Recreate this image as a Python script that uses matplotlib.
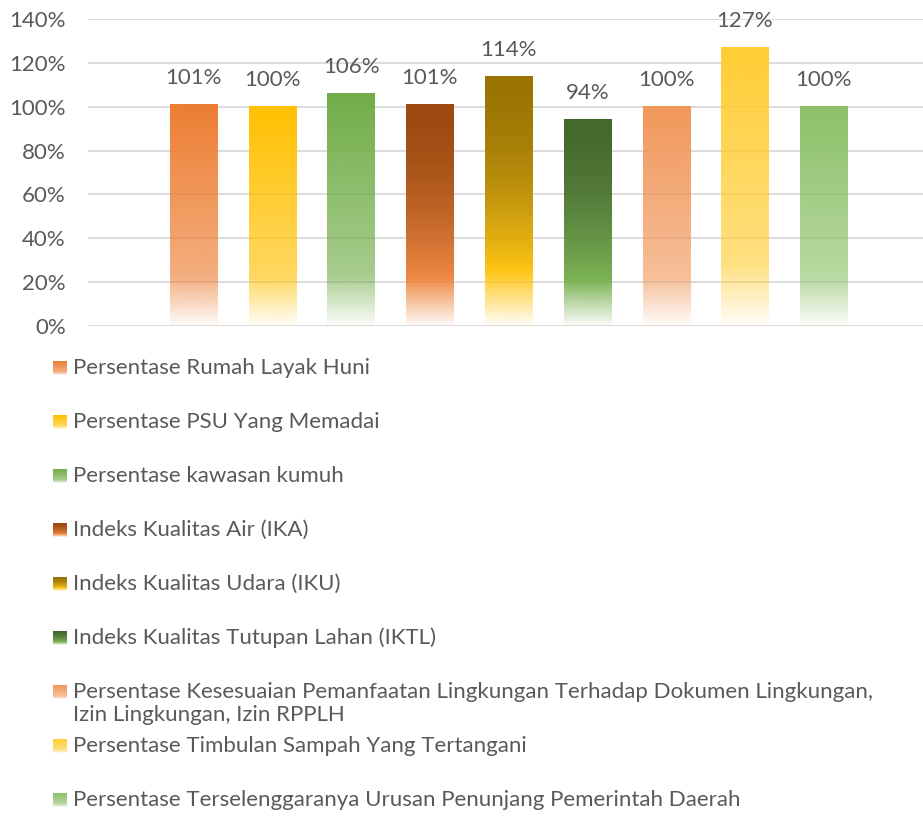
import matplotlib
matplotlib.use("Agg")
import matplotlib.pyplot as plt
import numpy as np
from matplotlib.colors import to_rgb

plt.rcParams['font.family'] = ['Lato', 'DejaVu Sans']

labels = [
    "Persentase Rumah Layak Huni",
    "Persentase PSU Yang Memadai",
    "Persentase kawasan kumuh",
    "Indeks Kualitas Air (IKA)",
    "Indeks Kualitas Udara (IKU)",
    "Indeks Kualitas Tutupan Lahan (IKTL)",
    "Persentase Kesesuaian Pemanfaatan Lingkungan Terhadap Dokumen Lingkungan,\nIzin Lingkungan, Izin RPPLH",
    "Persentase Timbulan Sampah Yang Tertangani",
    "Persentase Terselenggaranya Urusan Penunjang Pemerintah Daerah",
]
values = [101, 100, 106, 101, 114, 94, 100, 127, 100]
top_colors = ["#ED7D31", "#FFC000", "#70AD47", "#9E480E", "#997300",
              "#43682B", "#F1975A", "#FFCD33", "#8CC168"]
low_colors = ["#ED7D31", "#FFC000", "#70AD47", "#ED7D31", "#FFC000",
              "#70AD47", "#F1975A", "#FFCD33", "#8CC168"]
yticks = [0, 20, 40, 60, 80, 100, 120, 140]

txt = "#595959"
fs = 16


def gradient(top, low, dark, n=200):
    t = np.linspace(0, 1, n)[:, None]
    c1 = np.array(to_rgb(top))
    c2 = np.array(to_rgb(low))
    k = np.clip(t / 0.78, 0, 1) ** 2
    rgb = c1 * (1 - k) + c2 * k
    a_mid = 0.92 if dark else 0.62
    alpha = np.where(t < 0.78, 1 - (1 - a_mid) * t / 0.78,
                     a_mid - (a_mid - 0.03) * (t - 0.78) / 0.22)
    img = np.concatenate([rgb, alpha], axis=1)
    return img[:, None, :]


fig = plt.figure(figsize=(9.23, 8.17), dpi=100)
ax = fig.add_axes([88 / 923, 1 - 326 / 817, 1 - 88 / 923, 307 / 817])

w = 0.6
x = np.arange(len(values))
for i, v in enumerate(values):
    dark = top_colors[i] != low_colors[i]
    ax.imshow(gradient(top_colors[i], low_colors[i], dark),
              extent=[x[i] - w / 2, x[i] + w / 2, 0, v],
              aspect='auto', interpolation='bilinear', zorder=3)
    ax.annotate(f"{v}%", (x[i], v), xytext=(0, 19), textcoords='offset points',
                ha='center', va='center', fontsize=fs, color=txt)

ax.set_xlim(-1.34, 9.26)
ax.set_ylim(0, 140)
ax.set_yticks(yticks)
ax.set_yticklabels([f"{t}%" for t in yticks])
ax.set_xticks([])
ax.tick_params(axis='y', length=0, pad=16, labelsize=fs, labelcolor=txt)
ax.grid(axis='y', color='#D9D9D9', linewidth=1.3, zorder=0)
ax.set_axisbelow(True)
for s in ax.spines.values():
    s.set_visible(False)

# legend drawn in pixel coordinates
lax = fig.add_axes([0, 0, 1, 1])
lax.set_xlim(0, 923)
lax.set_ylim(817, 0)
lax.axis('off')
for i, lab in enumerate(labels):
    y = 368 + 54 * i
    dark = top_colors[i] != low_colors[i]
    lax.imshow(gradient(top_colors[i], low_colors[i], dark),
               extent=[53, 67, y + 7, y - 7], aspect='auto',
               interpolation='bilinear')
    lines = lab.split("\n")
    for j, line in enumerate(lines):
        lax.text(73, y + 23 * j, line, va='center', ha='left',
                 fontsize=fs, color=txt)
lax.set_xlim(0, 923)
lax.set_ylim(817, 0)

fig.savefig("out.png", dpi=100)
